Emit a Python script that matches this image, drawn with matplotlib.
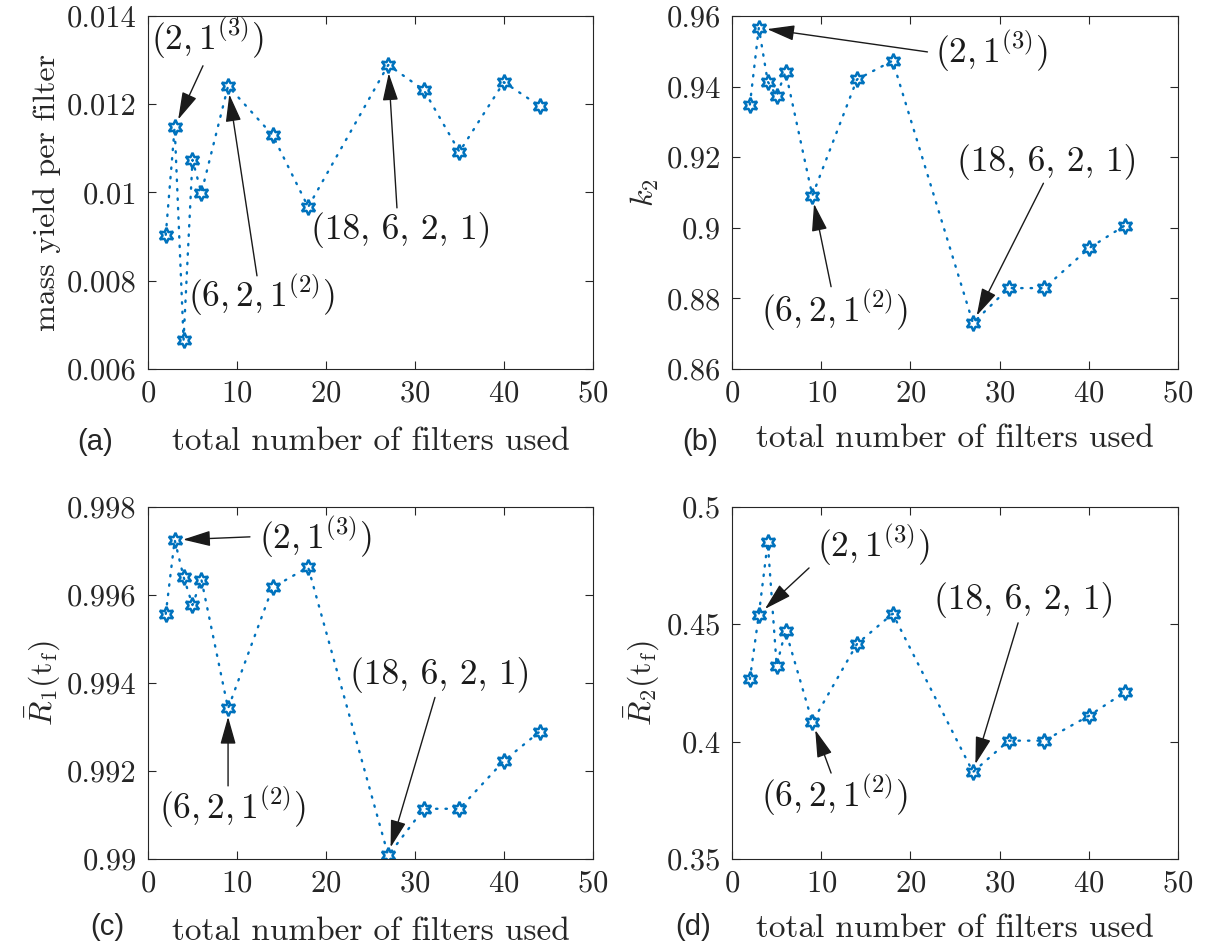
import matplotlib
matplotlib.use("Agg")
import matplotlib.pyplot as plt

plt.rcParams['font.family'] = 'serif'
plt.rcParams['font.serif'] = ['cmr10']
plt.rcParams['mathtext.fontset'] = 'cm'
plt.rcParams['axes.formatter.use_mathtext'] = True

# data
n_filters = [2, 3, 4, 5, 6, 9, 14, 18, 27, 31, 35, 40, 44]
mass_yield = [0.00904, 0.01148, 0.00666, 0.01074, 0.00999, 0.01241, 0.0113,
              0.00967, 0.01289, 0.01232, 0.01092, 0.0125, 0.01196]
k2 = [0.9349, 0.9566, 0.9414, 0.9373, 0.9442, 0.9091, 0.942, 0.9473,
      0.873, 0.8829, 0.8829, 0.8942, 0.9006]
R1 = [0.99557, 0.99725, 0.99641, 0.99577, 0.99635, 0.99342, 0.99617,
      0.99663, 0.99008, 0.99114, 0.99114, 0.99223, 0.99289]
R2 = [0.4267, 0.4541, 0.485, 0.4324, 0.4473, 0.4083, 0.4416, 0.4545,
      0.387, 0.4004, 0.4004, 0.411, 0.421]

ann_labels = [r'$(2,1^{(3)})$', r'$(6,2,1^{(2)})$', '(18, 6, 2, 1)']
ann_idx = [1, 5, 8]  # points the arrows point at: 3, 9 and 27 filters

ylabels = ['mass yield per filter', r'$k_2$',
           r'$\bar{R}_1(\mathrm{t_f})$', r'$\bar{R}_2(\mathrm{t_f})$']
ylims = [(0.006, 0.014), (0.86, 0.96), (0.99, 0.998), (0.35, 0.5)]
yticks = [[0.006, 0.008, 0.01, 0.012, 0.014],
          [0.86, 0.88, 0.9, 0.92, 0.94, 0.96],
          [0.99, 0.992, 0.994, 0.996, 0.998],
          [0.35, 0.4, 0.45, 0.5]]
yticklabels = [['0.006', '0.008', '0.01', '0.012', '0.014'],
               ['0.86', '0.88', '0.9', '0.92', '0.94', '0.96'],
               ['0.99', '0.992', '0.994', '0.996', '0.998'],
               ['0.35', '0.4', '0.45', '0.5']]

# text centres and arrow tails, per panel
text_pos = [[(6.7, 0.0135), (12.7, 0.00768), (28.5, 0.00915)],
            [(29.1, 0.950), (11.5, 0.8765), (35.3, 0.9185)],
            [(18.8, 0.9973), (9.5, 0.99118), (32.8, 0.99419)],
            [(15.9, 0.4838), (11.5, 0.3773), (32.7, 0.4604)]]
tail_pos = [[(6.18, 0.01287), (12.25, 0.00811), (27.98, 0.00965)],
            [(21.9, 0.9498), (11.1, 0.8833), (34.9, 0.9126)],
            [(11.46, 0.99732), (9.0, 0.99166), (32.25, 0.99367)],
            [(8.63, 0.474), (11.1, 0.3866), (32.06, 0.4506)]]

series = [mass_yield, k2, R1, R2]
panel_tags = ['(a)', '(b)', '(c)', '(d)']
axes_rect = [[0.1224, 0.6104, 0.368, 0.3728],
             [0.6055, 0.6104, 0.369, 0.3728],
             [0.1224, 0.093, 0.368, 0.3717],
             [0.6055, 0.093, 0.369, 0.3717]]
tag_pos = [(0.079, 0.533), (0.579, 0.533), (0.089, 0.021), (0.573, 0.021)]
xlabel_pad = [14, 12, 14, 12]

blue = '#0072BD'
fig = plt.figure(figsize=(12.09, 9.47), dpi=100)

for i in range(4):
    ax = fig.add_axes(axes_rect[i])
    y = series[i]
    ax.plot(n_filters, y, linestyle=(0, (0.6, 3.4)), color=blue,
            linewidth=1.7, dash_capstyle='round',
            marker=(6, 1, 0), markersize=11, markerfacecolor='none',
            markeredgecolor=blue, markeredgewidth=1.8)
    ax.set_xlim(0, 50)
    ax.set_ylim(*ylims[i])
    ax.set_xticks([0, 10, 20, 30, 40, 50])
    ax.set_yticks(yticks[i])
    ax.set_yticklabels(yticklabels[i])
    ax.tick_params(direction='in', top=True, right=True, labelsize=22,
                   colors='#262626', length=6, width=0.8, pad=8)
    for s in ax.spines.values():
        s.set_color('#262626')
        s.set_linewidth(0.8)
    ax.set_xlabel('total number of filters used', fontsize=24,
                  labelpad=xlabel_pad[i], color='#262626')
    ax.set_ylabel(ylabels[i], fontsize=23, color='#262626')

    for j in range(3):
        k = ann_idx[j]
        ax.text(text_pos[i][j][0], text_pos[i][j][1], ann_labels[j],
                fontsize=25.5, ha='center', va='center', color='#1a1a1a')
        ax.annotate('', xy=(n_filters[k], y[k]), xytext=tail_pos[i][j],
                    arrowprops=dict(arrowstyle='-|>,head_length=0.85,head_width=0.24',
                                    color='#1a1a1a', lw=1.0, shrinkA=0,
                                    shrinkB=6, mutation_scale=20))

    fig.text(tag_pos[i][0], tag_pos[i][1], panel_tags[i], fontsize=21,
             family='Liberation Sans', ha='center', va='center',
             color='#262626')

fig.savefig('out.png', dpi=100)
